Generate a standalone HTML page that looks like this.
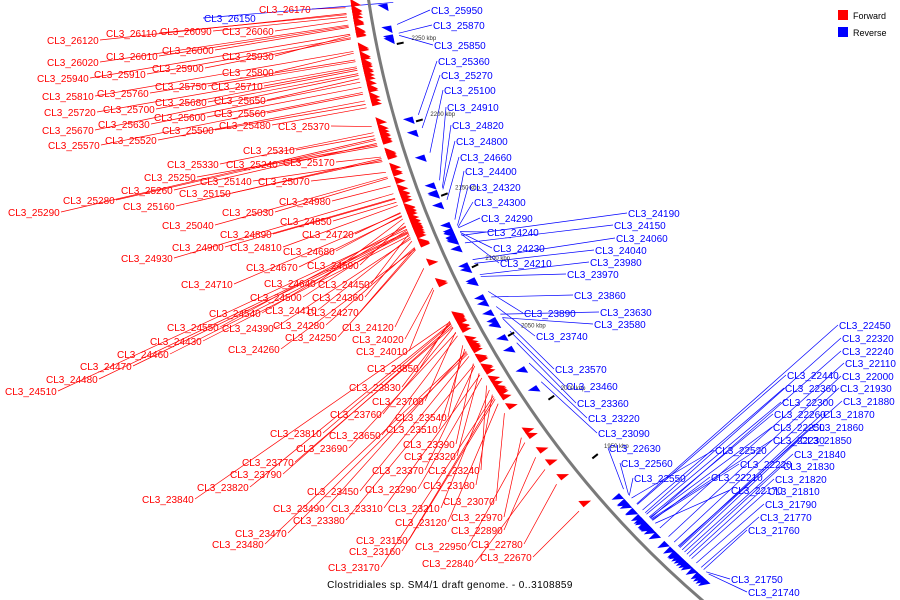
<!DOCTYPE html>
<html><head><meta charset="utf-8"><style>
html,body{margin:0;padding:0;background:#fff;}
#chart{position:absolute;left:0;top:0;width:900px;height:600px;overflow:hidden;}
svg text{font-family:"Liberation Sans",sans-serif;}
</style></head><body>
<div id="chart">
<svg id="svg" width="900" height="600" viewBox="0 0 900 600" xmlns="http://www.w3.org/2000/svg">
  <g id="lines"></g><g id="feats"></g><g id="ticks"></g><g id="labels"></g>
  <rect x="838" y="10" width="10" height="10" fill="#ff0000"/>
  <text x="853" y="19" font-size="9" fill="#000">Forward</text>
  <rect x="838" y="27" width="10" height="10" fill="#0000ff"/>
  <text x="853" y="36" font-size="9" fill="#000">Reverse</text>
  <text x="450" y="588" font-size="10" text-anchor="middle" fill="#000" letter-spacing="0.4">Clostridiales sp. SM4/1 draft genome. - 0..3108859</text>
</svg>
</div>
<script>
// Gene number -> position along arc (calibration)
const calGene = [26200, 26170, 25850, 25370, 24900, 24190, 23850, 23570, 23360, 23090, 22630, 22450, 22170, 21860, 21740];
const calY    = [-5, 4, 40, 120, 190, 245, 310, 330, 355, 395, 505, 520, 540, 565, 592];
// kbp tick marks
const tickKbp = [2250, 2200, 2150, 2100, 2050, 2000, 1950];
const tickY   = [48, 127, 203, 276, 346, 411, 471];
// Forward (red) labelled genes
const redGenes = [26170,26120,26110,26090,26060,26020,26010,26000,25930,25940,25910,25900,25800,25810,25760,25750,25710,25680,25650,25720,25700,25600,25560,25670,25630,25500,25480,25370,25570,25520,25310,25330,25240,25170,25250,25140,25070,25260,25150,25280,25160,24980,25290,25030,25040,24850,24890,24720,24900,24810,24680,24930,24670,24590,24710,24640,24450,24500,24360,24540,24410,24270,24550,24390,24280,24120,24430,24250,24020,24460,24260,24010,24470,24480,24510,23850,23830,23760,23700,23540,23810,23650,23510,23690,23390,23770,23320,23790,23370,23240,23820,23180,23840,23450,23290,23490,23310,23210,23070,23380,22970,23470,23120,22890,23480,23150,22950,22780,23160,23170,22840,22670];
const redLX = [259,47,106,160,222,47,106,162,222,37,94,152,222,42,97,155,211,155,214,44,103,154,214,42,98,162,219,278,48,105,243,167,226,283,144,200,258,121,179,63,123,279,8,222,162,280,220,302,172,230,283,121,246,307,181,264,318,250,312,209,265,307,167,222,273,342,150,285,352,117,228,356,80,46,5,367,349,330,372,395,270,329,386,296,403,242,404,230,372,428,197,423,142,307,365,273,331,388,443,293,451,235,395,451,212,356,415,471,349,328,422,480];
const redLY = [9,40,33,31,31,62,56,50,56,78,74,68,72,96,93,86,86,102,100,112,109,117,113,130,124,130,125,126,145,140,150,164,164,162,177,181,181,190,193,200,206,201,212,212,225,221,234,234,247,247,251,258,267,265,284,283,284,297,297,313,310,312,327,328,325,327,341,337,339,354,349,351,366,379,391,368,387,414,401,417,433,435,429,448,444,462,456,474,470,470,487,485,499,491,489,508,508,508,501,520,517,533,522,530,544,540,546,544,551,567,563,557];
// Reverse (blue) labelled genes
const blueGenes = [26150,25950,25870,25850,25360,25270,25100,24910,24820,24800,24660,24400,24320,24300,24290,24240,24230,24210,24190,24150,24060,24040,23980,23970,23860,23890,23630,23580,23740,23570,23460,23360,23220,23090,22630,22560,22550,22450,22320,22240,22110,22440,22000,22360,21930,22300,21880,22260,21870,22250,21860,22230,21850,22520,21840,22220,21830,22210,21820,22170,21810,21790,21770,21760,21750,21740];
const blueLX = [204,431,433,434,438,441,444,447,452,456,460,465,469,474,481,487,493,500,628,614,616,595,590,567,574,524,600,594,536,555,566,577,588,598,609,621,634,839,842,842,845,787,842,785,840,782,843,774,823,773,812,773,800,715,794,740,783,711,775,731,768,765,760,748,731,748];
const blueLY = [18,10,25,45,61,75,90,107,125,141,157,171,187,202,218,232,248,263,213,225,238,250,262,274,295,313,312,324,336,369,386,403,418,433,448,463,478,325,338,351,363,375,376,388,388,402,401,414,414,427,427,440,440,450,454,464,466,477,479,490,491,504,517,530,579,592];

const CX = 1347, CY = -151, R = 990;
const NS = 'http://www.w3.org/2000/svg';
function geneToY(g){
  for(let i=0;i<calGene.length-1;i++){
    if(g<=calGene[i] && g>=calGene[i+1]){
      const t=(calGene[i]-g)/(calGene[i]-calGene[i+1]);
      return calY[i]+t*(calY[i+1]-calY[i]);
    }
  }
  return g>calGene[0]?calY[0]:calY[calY.length-1];
}
function yToAngle(y){
  const x = CX - Math.sqrt(R*R-(y-CY)*(y-CY));
  return Math.atan2(y-CY, x-CX);
}
function polar(a,r){return [CX+r*Math.cos(a), CY+r*Math.sin(a)];}
function mk(tag,attrs,parent){const e=document.createElementNS(NS,tag);for(const k in attrs)e.setAttribute(k,attrs[k]);parent.appendChild(e);return e;}

const gL=document.getElementById('lines'), gF=document.getElementById('feats'), gT=document.getElementById('ticks'), gLab=document.getElementById('labels');

{
  const a0=yToAngle(-10), a1=yToAngle(610);
  const p0=polar(a0,R), p1=polar(a1,R);
  const arc=mk('path',{d:`M${p0[0]},${p0[1]} A${R},${R} 0 0 0 ${p1[0]},${p1[1]}`,fill:'none',stroke:'#7a7a7a','stroke-width':3},gT);
  
  
}
tickKbp.forEach((k,i)=>{
  const a=yToAngle(tickY[i]);
  const p=polar(a,R-20), q=polar(a,R-27);
  const t=mk('line',{x1:p[0],y1:p[1],x2:q[0],y2:q[1],stroke:'#000','stroke-width':2},gT);
  
  
  const lp=polar(a,R-35);
  const tx=mk('text',{x:lp[0],y:lp[1]-1,'font-size':6,fill:'#333'},gT);
  tx.textContent=k+' kbp';
  
  
});
function feature(g,fwd,color){
  const a=yToAngle(geneToY(g));
  const r1=fwd?R+8:R-8, r2=fwd?R+18:R-18;
  const da=fwd?0.008:-0.008;
  const b1=polar(a,r1), b2=polar(a,r2), tip=polar(a+da,r2);
  const p=mk('polygon',{points:`${b1[0]},${b1[1]} ${b2[0]},${b2[1]} ${tip[0]},${tip[1]}`,fill:color},gF);
  
  
  return polar(a, fwd?R+24:R-24);
}
redGenes.forEach((g,i)=>{
  const anc=feature(g,true,'#ff0000');
  const lx=redLX[i]+53, ly=redLY[i];
  const l=mk('line',{x1:lx,y1:ly,x2:anc[0],y2:anc[1],stroke:'#ff0000','stroke-width':0.7},gL);
  
  
  const t=mk('text',{x:redLX[i],y:ly+4,'font-size':10,fill:'#ff0000'},gLab);
  t.textContent='CL3_'+g;
  
  
});
blueGenes.forEach((g,i)=>{
  const anc=feature(g,false,'#0000ff');
  const lx=blueLX[i]-1, ly=blueLY[i];
  const l=mk('line',{x1:lx,y1:ly,x2:anc[0],y2:anc[1],stroke:'#0000ff','stroke-width':0.7},gL);
  
  
  const t=mk('text',{x:blueLX[i],y:ly+4,'font-size':10,fill:'#0000ff'},gLab);
  t.textContent='CL3_'+g;
  
  
});
</script>
</body></html>
